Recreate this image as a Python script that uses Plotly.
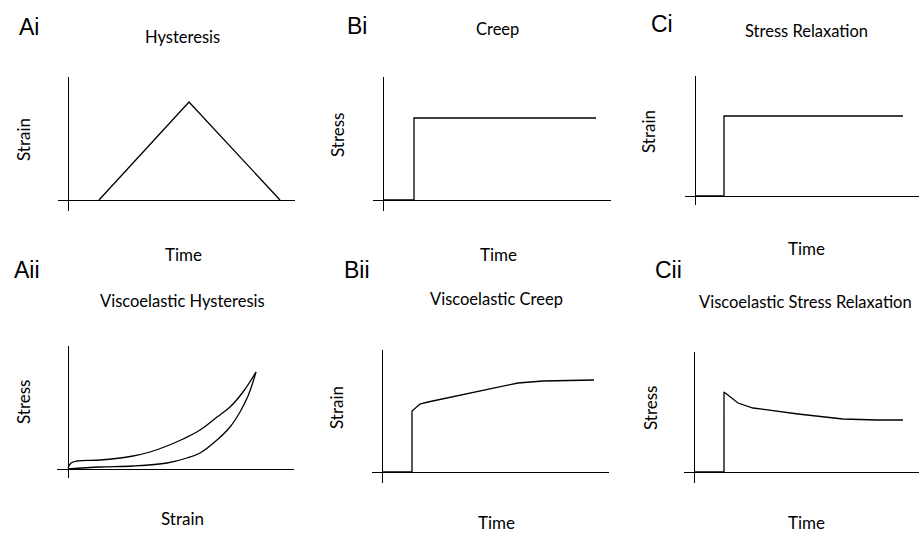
import plotly.graph_objects as go

# ---------------- data (arbitrary units) ----------------
# Ai  Hysteresis: strain vs time (triangle)
ai_time = [31, 121, 212]
ai_strain = [0, 98, 0]

# Aii Viscoelastic hysteresis: stress vs strain (loading / unloading)
aii_load_strain = [0, 3, 9, 32, 65, 82, 99, 115, 132, 149, 162, 175, 188]
aii_load_stress = [1, 6, 8, 9, 13, 17, 23, 30, 39, 52, 62, 77, 97]
aii_unload_strain = [188, 184, 180, 172, 162, 149, 132, 119, 99, 65, 32, 0]
aii_unload_stress = [97, 84, 73, 57, 42, 29, 16, 11, 6, 3, 2, 0]

# Bi  Creep: stress vs time (step)
bi_time = [0, 31, 31, 213]
bi_stress = [0, 0, 82, 82]

# Bii Viscoelastic creep: strain vs time
bii_time = [0, 30, 30, 38, 46, 136, 161, 212]
bii_strain = [0, 0, 61, 68, 70, 89, 91, 92]

# Ci  Stress relaxation: strain vs time (step)
ci_time = [0, 29, 29, 208]
ci_strain = [0, 0, 80, 80]

# Cii Viscoelastic stress relaxation: stress vs time
cii_time = [0, 30, 30, 44, 59, 104, 149, 183, 209]
cii_stress = [0, 0, 80, 69, 64, 58, 53, 52, 52]

W, H = 920, 533
FONT = "Lato"
LETTER_FONT = "Liberation Sans"

# panel layout: (axis-suffix, x px [l, r], y px [top, bottom], xrange, yrange)
panels = [
    ("", [58, 295], [77, 211], [-10, 227], [-11, 123]),
    ("2", [57, 294], [346, 478], [-11, 226], [-9, 123]),
    ("3", [373, 611], [77, 211], [-10, 228], [-11, 123]),
    ("4", [372, 609], [350, 483], [-10, 227], [-11, 122]),
    ("5", [685, 919], [76, 205], [-10, 224], [-9, 120]),
    ("6", [684, 919], [352, 483], [-10, 225], [-11, 120]),
]

fig = go.Figure()
line = dict(color="black", width=1.3)

series = [
    ("", ai_time, ai_strain, "linear"),
    ("2", aii_load_strain, aii_load_stress, "spline"),
    ("2", aii_unload_strain, aii_unload_stress, "spline"),
    ("3", bi_time, bi_stress, "linear"),
    ("4", bii_time, bii_strain, "linear"),
    ("5", ci_time, ci_strain, "linear"),
    ("6", cii_time, cii_stress, "linear"),
]
for suf, xs, ys, shape in series:
    fig.add_trace(go.Scatter(x=xs, y=ys, mode="lines",
                             line=dict(color="black", width=1.3, shape=shape),
                             xaxis="x" + suf, yaxis="y" + suf,
                             showlegend=False, hoverinfo="skip"))

layout = dict(
    width=W, height=H, margin=dict(l=0, r=0, t=0, b=0),
    paper_bgcolor="white", plot_bgcolor="white", showlegend=False,
)
for suf, xpx, ypx, xr, yr in panels:
    common = dict(showgrid=False, showline=False, showticklabels=False, ticks="",
                  zeroline=True, zerolinecolor="black", zerolinewidth=1.3,
                  fixedrange=True)
    layout["xaxis" + suf] = dict(domain=[xpx[0] / W, xpx[1] / W], range=xr,
                                 anchor="y" + suf, **common)
    layout["yaxis" + suf] = dict(domain=[1 - ypx[1] / H, 1 - ypx[0] / H], range=yr,
                                 anchor="x" + suf, **common)
fig.update_layout(**layout)

# ---------------- text ----------------
letters = [("Ai", 29, 27), ("Aii", 27, 270), ("Bi", 357, 26), ("Bii", 357, 270),
           ("Ci", 662, 24), ("Cii", 668, 270)]
titles = [("Hysteresis", 182, 37), ("Viscoelastic Hysteresis", 182, 301),
          ("Creep", 497, 29), ("Viscoelastic Creep", 496, 299),
          ("Stress Relaxation", 806, 31), ("Viscoelastic Stress Relaxation", 805, 302)]
xlabels = [("Time", 183, 254), ("Strain", 182, 518), ("Time", 498, 255),
           ("Time", 496, 522), ("Time", 806, 248), ("Time", 806, 522)]
ylabels = [("Strain", 23, 140), ("Stress", 23, 402), ("Stress", 337, 135),
           ("Strain", 336, 408), ("Strain", 648, 132), ("Stress", 650, 408)]

ann = []
def add(text, x, y, size, angle=0, family=FONT):
    ann.append(dict(text=text, x=x / W, y=1 - y / H, xref="paper", yref="paper",
                    xanchor="center", yanchor="middle", showarrow=False,
                    textangle=angle, font=dict(family=family, size=size, color="black")))

for t, x, y in letters:
    add(t, x, y, 23, family=LETTER_FONT)
for t, x, y in titles:
    add(t, x, y, 16.5)
for t, x, y in xlabels:
    add(t, x, y, 17)
for t, x, y in ylabels:
    add(t, x, y, 17, -90)
fig.update_layout(annotations=ann)

fig.write_html("out.html")
